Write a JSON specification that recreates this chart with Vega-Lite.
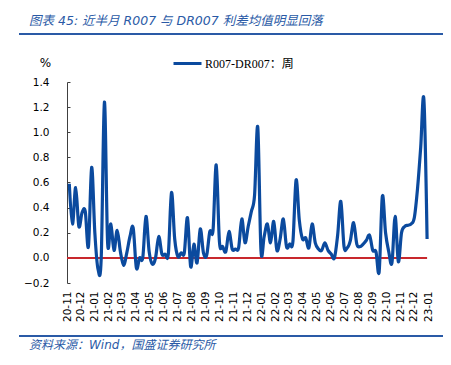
{
  "$schema": "https://vega.github.io/schema/vega-lite/v6.json",
  "padding": {"left": 18, "top": 14, "right": 9, "bottom": 5},
  "background": "white",
  "bounds": "flush",
  "spacing": 47,
  "config": {"view": {"stroke": null}, "font": "DejaVu Sans"},
  "vconcat": [
    {
      "width": 424,
      "height": 2,
      "title": {
        "text": "图表 45:  近半月 R007 与 DR007 利差均值明显回落",
        "anchor": "start",
        "frame": "group",
        "dx": 10,
        "offset": 6,
        "font": "DejaVu Sans, Noto Sans CJK SC",
        "fontStyle": "italic",
        "fontSize": 12.5,
        "fontWeight": "normal",
        "color": "#2a5aa6"
      },
      "data": {"values": [{"a": 0, "b": 1}]},
      "mark": {"type": "rule", "color": "#2a5aa6", "strokeWidth": 2},
      "encoding": {
        "x": {"field": "a", "type": "quantitative", "scale": {"domain": [0, 1]}, "axis": null},
        "x2": {"field": "b"}
      }
    },
    {
      "width": 424,
      "height": 201,
      "layer": [
        {
          "data": {"values": [{"from": "2020-11-01", "to": "2022-12-30", "level": 0}]},
          "mark": {"type": "rule", "color": "#c8282d", "strokeWidth": 2},
          "encoding": {
            "x": {"field": "from", "type": "temporal"},
            "x2": {"field": "to"},
            "y": {"field": "level", "type": "quantitative"}
          }
        },
        {
          "data": {"values": [
            {"date": "2020-11-06", "value": 0.59},
            {"date": "2020-11-13", "value": 0.27},
            {"date": "2020-11-20", "value": 0.56},
            {"date": "2020-11-27", "value": 0.25},
            {"date": "2020-12-04", "value": 0.36},
            {"date": "2020-12-11", "value": 0.37},
            {"date": "2020-12-18", "value": 0.09},
            {"date": "2020-12-25", "value": 0.72},
            {"date": "2021-01-01", "value": 0.2},
            {"date": "2021-01-08", "value": -0.09},
            {"date": "2021-01-15", "value": 0.0},
            {"date": "2021-01-22", "value": 1.24},
            {"date": "2021-01-29", "value": 0.12},
            {"date": "2021-02-05", "value": 0.27},
            {"date": "2021-02-12", "value": 0.06},
            {"date": "2021-02-19", "value": 0.22},
            {"date": "2021-02-26", "value": 0.05},
            {"date": "2021-03-05", "value": -0.06},
            {"date": "2021-03-12", "value": 0.04},
            {"date": "2021-03-19", "value": 0.17},
            {"date": "2021-03-26", "value": 0.24},
            {"date": "2021-04-02", "value": -0.08},
            {"date": "2021-04-09", "value": 0.0},
            {"date": "2021-04-16", "value": 0.0},
            {"date": "2021-04-23", "value": 0.33},
            {"date": "2021-04-30", "value": 0.05},
            {"date": "2021-05-07", "value": -0.05},
            {"date": "2021-05-14", "value": 0.0},
            {"date": "2021-05-21", "value": 0.17},
            {"date": "2021-05-28", "value": 0.03},
            {"date": "2021-06-04", "value": 0.03},
            {"date": "2021-06-11", "value": 0.03},
            {"date": "2021-06-18", "value": 0.52},
            {"date": "2021-06-25", "value": 0.15},
            {"date": "2021-07-02", "value": 0.01},
            {"date": "2021-07-09", "value": 0.04},
            {"date": "2021-07-16", "value": 0.04},
            {"date": "2021-07-23", "value": 0.32},
            {"date": "2021-07-30", "value": -0.07},
            {"date": "2021-08-06", "value": 0.11},
            {"date": "2021-08-13", "value": -0.04},
            {"date": "2021-08-20", "value": 0.23},
            {"date": "2021-08-27", "value": 0.04},
            {"date": "2021-09-03", "value": 0.02},
            {"date": "2021-09-10", "value": 0.21},
            {"date": "2021-09-17", "value": 0.22},
            {"date": "2021-09-24", "value": 0.74},
            {"date": "2021-10-01", "value": 0.13},
            {"date": "2021-10-08", "value": 0.09},
            {"date": "2021-10-15", "value": 0.05},
            {"date": "2021-10-22", "value": 0.21},
            {"date": "2021-10-29", "value": 0.07},
            {"date": "2021-11-05", "value": 0.07},
            {"date": "2021-11-12", "value": 0.08},
            {"date": "2021-11-19", "value": 0.31},
            {"date": "2021-11-26", "value": 0.12},
            {"date": "2021-12-03", "value": 0.25},
            {"date": "2021-12-10", "value": 0.37},
            {"date": "2021-12-17", "value": 0.5},
            {"date": "2021-12-24", "value": 1.04},
            {"date": "2021-12-31", "value": 0.06},
            {"date": "2022-01-07", "value": 0.17},
            {"date": "2022-01-14", "value": 0.27},
            {"date": "2022-01-21", "value": 0.12},
            {"date": "2022-01-28", "value": 0.29},
            {"date": "2022-02-04", "value": 0.06},
            {"date": "2022-02-11", "value": 0.15},
            {"date": "2022-02-18", "value": 0.31},
            {"date": "2022-02-25", "value": 0.09},
            {"date": "2022-03-04", "value": 0.11},
            {"date": "2022-03-11", "value": 0.13},
            {"date": "2022-03-18", "value": 0.62},
            {"date": "2022-03-25", "value": 0.3},
            {"date": "2022-04-01", "value": 0.15},
            {"date": "2022-04-08", "value": 0.16},
            {"date": "2022-04-15", "value": 0.08},
            {"date": "2022-04-22", "value": 0.27},
            {"date": "2022-04-29", "value": 0.12},
            {"date": "2022-05-06", "value": 0.07},
            {"date": "2022-05-13", "value": 0.06},
            {"date": "2022-05-20", "value": 0.12},
            {"date": "2022-05-27", "value": 0.06},
            {"date": "2022-06-03", "value": 0.03},
            {"date": "2022-06-10", "value": 0.0},
            {"date": "2022-06-17", "value": 0.18},
            {"date": "2022-06-24", "value": 0.45},
            {"date": "2022-07-01", "value": 0.09},
            {"date": "2022-07-08", "value": 0.08},
            {"date": "2022-07-15", "value": 0.14},
            {"date": "2022-07-22", "value": 0.28},
            {"date": "2022-07-29", "value": 0.11},
            {"date": "2022-08-05", "value": 0.09},
            {"date": "2022-08-12", "value": 0.11},
            {"date": "2022-08-19", "value": 0.14},
            {"date": "2022-08-26", "value": 0.18},
            {"date": "2022-09-02", "value": 0.06},
            {"date": "2022-09-09", "value": 0.05},
            {"date": "2022-09-16", "value": -0.11},
            {"date": "2022-09-23", "value": 0.49},
            {"date": "2022-09-30", "value": 0.2},
            {"date": "2022-10-07", "value": 0.05},
            {"date": "2022-10-14", "value": -0.04},
            {"date": "2022-10-21", "value": 0.33},
            {"date": "2022-10-28", "value": -0.03},
            {"date": "2022-11-04", "value": 0.2},
            {"date": "2022-11-11", "value": 0.25},
            {"date": "2022-11-18", "value": 0.26},
            {"date": "2022-11-25", "value": 0.27},
            {"date": "2022-12-02", "value": 0.32},
            {"date": "2022-12-09", "value": 0.55},
            {"date": "2022-12-16", "value": 0.88},
            {"date": "2022-12-23", "value": 1.26},
            {"date": "2022-12-30", "value": 0.15}
          ]},
          "mark": {"type": "line", "interpolate": "cardinal", "strokeWidth": 3.2},
          "encoding": {
            "x": {"field": "date", "type": "temporal"},
            "y": {"field": "value", "type": "quantitative"},
            "color": {
              "datum": "R007-DR007：周",
              "type": "nominal",
              "scale": {"range": ["#0b4a9e"]},
              "legend": {
                "title": null,
                "orient": "none",
                "legendX": 153,
                "legendY": 15,
                "symbolType": "stroke",
                "symbolSize": 784,
                "symbolStrokeWidth": 3,
                "labelFont": "Liberation Serif, Noto Sans CJK SC",
                "labelFontSize": 12,
                "labelColor": "#000000",
                "labelOffset": 2
              }
            }
          }
        }
      ],
      "encoding": {
        "x": {
          "field": "date",
          "type": "temporal",
          "scale": {
            "type": "utc",
            "domain": [
              {"year": 2020, "month": 11, "date": 1, "utc": true},
              {"year": 2023, "month": 1, "date": 1, "utc": true}
            ],
            "range": [48, 409],
            "nice": false
          },
          "axis": {
            "title": null,
            "format": "%y-%m",
            "labelAngle": 270,
            "tickCount": {"interval": "month", "step": 1},
            "domain": false,
            "ticks": false,
            "grid": false,
            "labelPadding": 8,
            "labelFontSize": 10.5,
            "labelColor": "#000000",
            "labelOverlap": false,
            "labelFlush": false
          }
        },
        "y": {
          "field": "value",
          "type": "quantitative",
          "scale": {"domain": [-0.2, 1.4], "nice": false, "zero": false},
          "axis": {
            "offset": -48,
            "values": [-0.2, 0, 0.2, 0.4, 0.6, 0.8, 1.0, 1.2, 1.4],
            "format": ".1f",
            "grid": false,
            "domainColor": "#404040",
            "tickColor": "#404040",
            "tickSize": -3,
            "labelPadding": 21,
            "labelFontSize": 10.5,
            "labelColor": "#000000",
            "title": "%",
            "titleAngle": 0,
            "titleX": -22,
            "titleY": -20,
            "titleAlign": "center",
            "titleBaseline": "middle",
            "titleFontWeight": "normal",
            "titleFontSize": 12,
            "titleColor": "#000000"
          }
        }
      }
    },
    {
      "width": 424,
      "height": 12,
      "title": {
        "text": "资料来源：Wind，国盛证券研究所",
        "orient": "bottom",
        "anchor": "start",
        "frame": "group",
        "dx": 10,
        "offset": -2,
        "font": "DejaVu Sans, Noto Sans CJK SC",
        "fontStyle": "italic",
        "fontSize": 12,
        "fontWeight": "normal",
        "color": "#2a5aa6"
      },
      "data": {"values": [{"a": 0, "b": 1}]},
      "mark": {"type": "rule", "color": "#2a5aa6", "strokeWidth": 2},
      "encoding": {
        "x": {"field": "a", "type": "quantitative", "scale": {"domain": [0, 1]}, "axis": null},
        "x2": {"field": "b"}
      }
    }
  ]
}
